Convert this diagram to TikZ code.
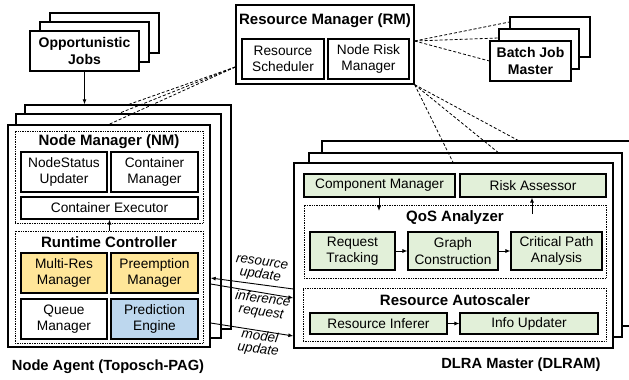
\documentclass[tikz,border=0pt]{standalone}
\usepackage{fontspec}
\setmainfont{Liberation Sans}
\usetikzlibrary{arrows.meta}
\definecolor{resyellow}{HTML}{FFE699}
\definecolor{resblue}{HTML}{BDD7EE}
\definecolor{resgreen}{HTML}{E2F0D9}
\newcommand\regsize{\fontsize{13.7}{16.4}\selectfont}
\newcommand\headsize{\fontsize{15}{18}\selectfont\bfseries}
\newcommand\jobsize{\fontsize{14}{16.8}\selectfont\bfseries}
\newcommand\footsize{\fontsize{14.7}{17}\selectfont\bfseries}
\newcommand\labsize{\fontsize{13.5}{13}\selectfont\itshape}
\tikzset{
  % rectangle given by its corners: {left}{top}{right}{bottom}
  rect/.style n args={4}{minimum width={#3-#1}, minimum height={#4-#2},
    at={({(#1+#3)/2},{(#2+#4)/2})}},
  box/.style={draw, line width=1.1pt, fill=white, inner sep=0pt, align=center, font=\regsize},
  jobbox/.style={box, font=\jobsize},
  frame/.style={draw, line width=1.3pt, fill=white, inner sep=0pt},
  dotbox/.style={draw, line width=0.8pt, dash pattern=on 0.8pt off 0.9pt, inner sep=0pt},
  heading/.style={font=\headsize, inner sep=0pt},
  linkline/.style={line width=0.8pt, dash pattern=on 3pt off 2pt},
  arr/.style={-{Latex[length=5pt,width=4pt]}, line width=0.9pt},
  flowlabel/.style={font=\labsize, align=center, rotate=-8, inner sep=0pt},
}
\begin{document}
\begin{tikzpicture}[x=1pt,y=-1pt]
\clip (0,0) rectangle (629,380);
\fill[white] (0,0) rectangle (629,380);

% opportunistic jobs (stacked)
\node[box, rect={50}{13}{159}{53}] (oj3) {};
\node[box, rect={40}{22}{149}{62}] (oj2) {};
\node[jobbox, rect={30}{31}{139}{71}] (oj1) {Opportunistic\\Jobs};

% batch job masters (stacked)
\node[box, rect={510}{17}{590}{57}] (bj3) {};
\node[box, rect={499}{29}{579}{69}] (bj2) {};
\node[jobbox, rect={490}{41}{571}{81}] (bj1) {Batch Job\\Master};

% resource manager
\node[frame, rect={236}{5}{414}{84}] (rm) {};
\node[heading] (rmt) at (325,21) {Resource Manager (RM)};
\node[box, rect={242}{39}{324}{79}] (rs) {Resource\\Scheduler};
\node[box, rect={328}{39}{409}{79}] (nrm) {Node Risk\\Manager};

% node agents (stacked)
\node[frame, rect={25}{105}{231}{329}] (na3) {};
\node[frame, rect={16}{114}{221}{338}] (na2) {};
\node[frame, rect={8}{125}{210}{347}] (na1) {};

\node[dotbox, rect={15}{131}{203}{223}] (nm) {};
\node[heading] (nmt) at (109,142) {Node Manager (NM)};
\node[box, rect={21}{152}{107}{192}] (nsu) {NodeStatus\\Updater};
\node[box, rect={111}{152}{198}{192}] (cm) {Container\\Manager};
\node[box, rect={21}{197}{198}{219}] (ce) {Container Executor};

\node[dotbox, rect={15}{231}{203}{343}] (rc) {};
\node[heading] (rct) at (109,242) {Runtime Controller};
\node[box, fill=resyellow, rect={21}{253}{107}{293}] (mrm) {Multi-Res\\Manager};
\node[box, fill=resyellow, rect={111}{253}{198}{293}] (pm) {Preemption\\Manager};
\node[box, rect={21}{299}{107}{339}] (qm) {Queue\\Manager};
\node[box, fill=resblue, rect={111}{299}{198}{339}] (pe) {Prediction\\Engine};

\draw[arr] (rc.north -| ce.south) -- (ce.south);

\node[heading, font=\footsize] (nal) at (108,367) {Node Agent (Toposch-PAG)};

% DLRA masters (stacked)
\node[frame, rect={322}{141}{645}{326}] (dl3) {};
\node[frame, rect={309}{153}{622}{337}] (dl2) {};
\node[frame, rect={294}{163}{613}{348}] (dl1) {};

\node[box, fill=resgreen, rect={304}{174}{455}{197}] (compm) {Component Manager};
\node[box, fill=resgreen, rect={460}{174}{606}{197}] (ra) {Risk Assessor};

\node[dotbox, rect={304}{205}{606}{278}] (qos) {};
\node[heading] (qost) at (455,218) {QoS Analyzer};
\node[box, fill=resgreen, rect={310}{232}{395}{270}] (rt) {Request\\Tracking};
\node[box, fill=resgreen, rect={408}{232}{498}{270}] (gc) {Graph\\Construction};
\node[box, fill=resgreen, rect={511}{232}{602}{270}] (cpa) {Critical Path\\Analysis};
\draw[arr] (rt) -- (gc);
\draw[arr] (gc) -- (cpa);
\draw[arr] (compm.south -| 379,0) -- (379,211);
\draw[arr] (532,214) -- (ra.south -| 532,0);

\node[dotbox, rect={303}{288}{606}{341}] (ras) {};
\node[heading] (rast) at (455,300) {Resource Autoscaler};
\node[box, fill=resgreen, rect={310}{313}{447}{334}] (ri) {Resource Inferer};
\node[box, fill=resgreen, rect={460}{313}{598}{334}] (iu) {Info Updater};
\draw[arr] (ri) -- (iu);

\node[heading, font=\footsize] (dll) at (521,365) {DLRA Master (DLRAM)};

% dashed links from the resource manager
\draw[linkline] (rm.west |- 0,67) -- (na3.north -| 129,0);
\draw[linkline] (rm.west |- 0,67) -- (na2.north -| 119,0);
\draw[linkline] (rm.west |- 0,67) -- (na1.north -| 109,0);
\draw[linkline] (rm.east |- 0,41) -- (bj3.west |- 0,22);
\draw[linkline] (rm.east |- 0,41) -- (bj2.west |- 0,38);
\draw[linkline] (rm.east |- 0,41) -- (bj1.west |- 0,61);
\draw[linkline] (rm.south east) -- (dl1.north -| 453,0);
\draw[linkline] (rm.south east) -- (dl2.north -| 498,0);
\draw[linkline] (rm.south east) -- (dl3.north -| 518,0);

% opportunistic jobs into the node agent
\draw[arr] (oj1.south) -- (na3.north -| oj1.south);

% node agent <-> DLRA master messages
\draw[arr] (dl1.west |- 0,289) -- (na1.east |- 0,278);
\draw[arr] (na1.east |- 0,284) -- (dl1.west |- 0,298);
\draw[arr] (na1.east |- 0,323) -- (dl1.west |- 0,336);
\node[flowlabel] (lru) at (261,270) {resource\\update};
\node[flowlabel] (lir) at (262,306) {inference\\request};
\node[flowlabel] (lmu) at (259,343) {model\\update};
\end{tikzpicture}
\end{document}
